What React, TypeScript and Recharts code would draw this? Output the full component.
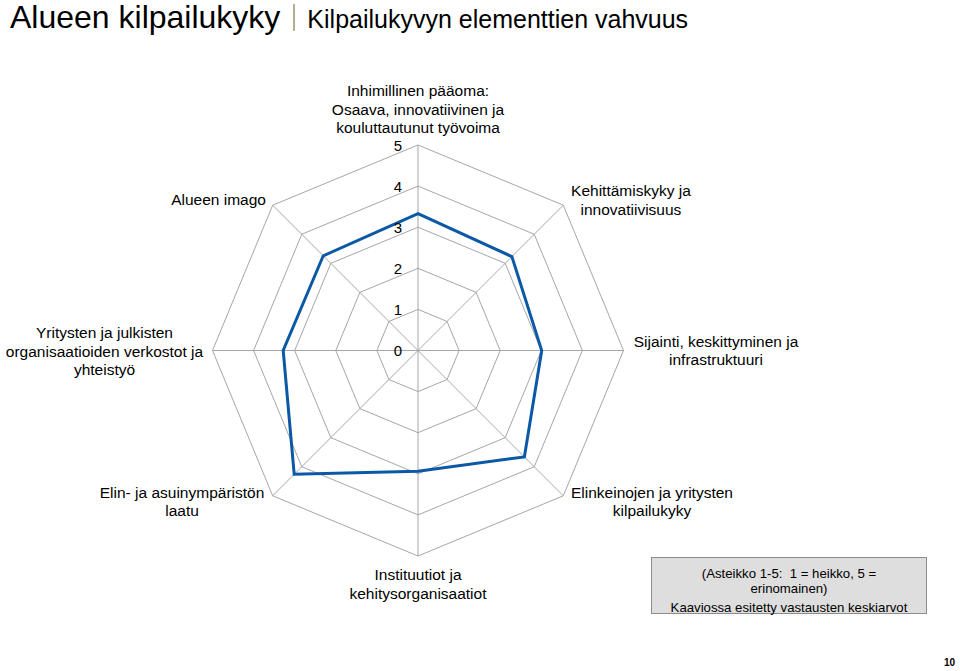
import React from 'react';
import { RadarChart, Radar, PolarGrid, PolarAngleAxis, PolarRadiusAxis } from 'recharts';

// Kilpailukyvyn elementit (myötäpäivään ylhäältä alkaen)
const categories = [
  'Inhimillinen pääoma',
  'Kehittämiskyky',
  'Sijainti',
  'Elinkeinot',
  'Instituutiot',
  'Elinympäristö',
  'Verkostot',
  'Alueen imago',
];

const categoryLabels: string[][] = [
  ['Inhimillinen pääoma:', 'Osaava, innovatiivinen ja', 'kouluttautunut työvoima'],
  ['Kehittämiskyky ja', 'innovatiivisuus'],
  ['Sijainti, keskittyminen ja', 'infrastruktuuri'],
  ['Elinkeinojen ja yritysten', 'kilpailukyky'],
  ['Instituutiot ja', 'kehitysorganisaatiot'],
  ['Elin- ja asuinympäristön', 'laatu'],
  ['Yritysten ja julkisten', 'organisaatioiden verkostot ja', 'yhteistyö'],
  ['Alueen imago'],
];

const averages = [3.33, 3.23, 3.01, 3.66, 2.94, 4.26, 3.28, 3.26];

const scaleTicks = [0, 1, 2, 3, 4, 5];

const data = categories.map((name, i) => ({ name, value: averages[i] }));

// label block offsets from the tick point: [dx, dy of first baseline]
const labelOffsets: number[][] = [
  [0, -41],
  [62, -3.5],
  [84.5, -4],
  [83, -3.5],
  [0, 16],
  [-85, -3.5],
  [-100, -12.5],
  [-48.5, 5.5],
];

const FONT = '"Liberation Sans", Arial, sans-serif';

const AngleTick = (props: any) => {
  const { x, y, payload } = props;
  const idx = props.index ?? categories.indexOf(payload.value);
  const lines = categoryLabels[idx] || [payload.value];
  const [dx, dy] = labelOffsets[idx] || [0, 0];
  return (
    <text x={x + dx} y={y + dy} textAnchor="middle" fontSize={15.5} fontFamily={FONT} fill="#000">
      {lines.map((line, i) => (
        <tspan key={i} x={x + dx} dy={i === 0 ? 0 : 18.5}>
          {line}
        </tspan>
      ))}
    </text>
  );
};

const RadiusTick = (props: any) => {
  const { x, y, payload } = props;
  return (
    <text x={x - 20} y={y + 5.5} textAnchor="middle" fontSize={15} fontFamily={FONT} fill="#000">
      {payload.value}
    </text>
  );
};

export default function App() {
  return (
    <div style={{ position: 'absolute', left: 0, top: 0, width: 960, height: 671, background: '#fff', fontFamily: FONT }}>
      {/* Otsikko */}
      <div style={{ position: 'absolute', left: 10, top: 1, whiteSpace: 'nowrap', display: 'flex', alignItems: 'flex-end', lineHeight: 1 }}>
        <span style={{ fontSize: 32, color: '#000', lineHeight: '32px' }}>Alueen kilpailukyky</span>
        <span style={{ display: 'inline-block', width: 2, height: 27, background: '#b5ad94', margin: '0 12px 2px 13px' }} />
        <span style={{ fontSize: 25, color: '#000', lineHeight: '28px' }}>Kilpailukyvyn elementtien vahvuus</span>
      </div>

      <div style={{ position: 'absolute', left: 0, top: 0 }}>
        <RadarChart
          width={960}
          height={671}
          data={data}
          cx={418}
          cy={350.5}
          outerRadius={205.5}
          margin={{ top: 0, right: 0, bottom: 0, left: 0 }}
        >
          <PolarGrid gridType="polygon" stroke="#a6a6a6" strokeWidth={1} />
          <PolarAngleAxis dataKey="name" tick={<AngleTick />} tickLine={false} axisLine={false} />
          <PolarRadiusAxis
            angle={90}
            domain={[0, 5]}
            ticks={scaleTicks}
            tickCount={6}
            tick={<RadiusTick />}
            axisLine={false}
            tickLine={false}
          />
          <Radar
            dataKey="value"
            stroke="#0b58a6"
            strokeWidth={3}
            fill="none"
            fillOpacity={0}
            dot={false}
            isAnimationActive={false}
          />
        </RadarChart>
      </div>

      {/* Asteikon selite */}
      <div
        style={{
          position: 'absolute',
          left: 651,
          top: 557,
          width: 274,
          height: 55,
          background: '#dedede',
          border: '1px solid #8c8c8c',
          fontSize: 13.2,
          textAlign: 'center',
          color: '#000',
          lineHeight: '15px',
        }}
      >
        <div style={{ marginTop: 8 }}>(Asteikko 1-5:&nbsp; 1 = heikko, 5 =</div>
        <div>erinomainen)</div>
        <div style={{ marginTop: 4 }}>Kaaviossa esitetty vastausten keskiarvot</div>
      </div>

      <div style={{ position: 'absolute', left: 944, top: 657, fontSize: 10, fontWeight: 'bold', color: '#000' }}>10</div>
    </div>
  );
}
